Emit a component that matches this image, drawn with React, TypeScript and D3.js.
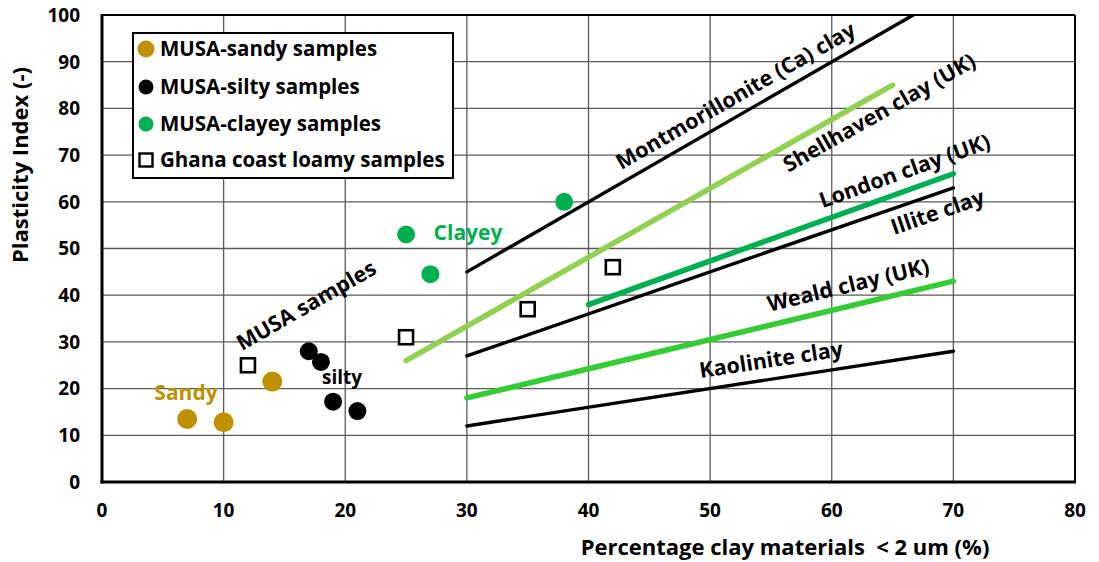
import React from "react";
import * as d3 from "d3";

const xTicks = [0, 10, 20, 30, 40, 50, 60, 70, 80];
const yTicks = [0, 10, 20, 30, 40, 50, 60, 70, 80, 90, 100];

const sandyX = [7, 10, 14];
const sandyY = [13.5, 12.8, 21.5];
const siltyX = [17, 18, 19, 21];
const siltyY = [28, 25.7, 17.2, 15.2];
const clayeyX = [25, 27, 38];
const clayeyY = [53, 44.5, 60];
const ghanaX = [12, 25, 35, 42];
const ghanaY = [25, 31, 37, 46];

const lineNames = ["Montmorillonite (Ca) clay", "Shellhaven clay (UK)", "London clay (UK)", "Illite clay", "Weald clay (UK)", "Kaolinite clay"];
const lineX1 = [30, 25, 40, 30, 30, 30];
const lineY1 = [45, 26, 38, 27, 18, 12];
const lineX2 = [66.7, 65, 70, 70, 70, 70];
const lineY2 = [100, 85, 66, 63, 43, 28];
const lineColors = ["#000000", "#92D050", "#00B050", "#000000", "#33CC33", "#000000"];
const lineWidths = [3.4, 5.5, 5.5, 3.4, 5.5, 3.4];
// label baseline-centre positions in data units
const labelX = [52.4, 64.2, 66.2, 68.9, 61.5, 55.1];
const labelY = [81.3, 77.7, 65.1, 56.3, 40.6, 24.6];

const legendLabels = ["MUSA-sandy samples", "MUSA-silty samples", "MUSA-clayey samples", "Ghana coast loamy samples"];

const FONT = "'Open Sans', Lato, sans-serif";

export default function App() {
  const W = 1099, H = 562;
  const left = 102, right = 1075, top = 15, bottom = 482;
  const x = d3.scaleLinear().domain([0, 80]).range([left, right]);
  const y = d3.scaleLinear().domain([0, 100]).range([bottom, top]);
  const pxSlope = (i: number) => {
    const dx = x(lineX2[i]) - x(lineX1[i]);
    const dy = y(lineY2[i]) - y(lineY1[i]);
    return (Math.atan2(dy, dx) * 180) / Math.PI;
  };
  const gridColor = "#5a5a5a";
  return (
    <svg width={W} height={H} style={{ position: "absolute", left: 0, top: 0, background: "#fff" }} fontFamily={FONT}>
      {/* grid */}
      {xTicks.map((t) => (
        <line key={"gx" + t} x1={x(t)} x2={x(t)} y1={top} y2={bottom} stroke={gridColor} strokeWidth={1.3} />
      ))}
      {yTicks.map((t) => (
        <line key={"gy" + t} x1={left} x2={right} y1={y(t)} y2={y(t)} stroke={gridColor} strokeWidth={1.3} />
      ))}
      {/* frame */}
      <line x1={left} x2={right} y1={top} y2={top} stroke="#000" strokeWidth={2.2} />
      <line x1={right} x2={right} y1={top} y2={bottom} stroke="#000" strokeWidth={2} />
      <line x1={left} x2={left} y1={top - 1} y2={bottom + 1.5} stroke="#000" strokeWidth={3} />
      <line x1={left - 1.5} x2={right + 1} y1={bottom} y2={bottom} stroke="#000" strokeWidth={3} />

      {/* tick labels */}
      {yTicks.map((t) => (
        <text key={"yt" + t} x={80} y={y(t)} dy="0.36em" textAnchor="end" fontSize={19} fontWeight="bold" fill="#000">{t}</text>
      ))}
      {xTicks.map((t) => (
        <text key={"xt" + t} x={x(t)} y={517} textAnchor="middle" fontSize={19} fontWeight="bold" fill="#000">{t}</text>
      ))}
      <text x={785} y={555} textAnchor="middle" fontSize={22} fontWeight="bold" fill="#000" style={{ whiteSpace: "pre" }}>{"Percentage clay materials  < 2 um (%)"}</text>
      <text transform={`translate(28,165) rotate(-90)`} textAnchor="middle" fontSize={22} fontWeight="bold" fill="#000">Plasticity Index (-)</text>

      {/* clay lines */}
      <defs>
        <clipPath id="plotclip">
          <rect x={left} y={top} width={right - left} height={bottom - top} />
        </clipPath>
      </defs>
      <g clipPath="url(#plotclip)">
        {lineNames.map((n, i) => (
          <line key={n} x1={x(lineX1[i])} y1={y(lineY1[i])} x2={x(lineX2[i])} y2={y(lineY2[i])}
            stroke={lineColors[i]} strokeWidth={lineWidths[i]} strokeLinecap="round" />
        ))}
      </g>
      {lineNames.map((n, i) => (
        <text key={"l" + n} transform={`translate(${x(labelX[i])},${y(labelY[i])}) rotate(${pxSlope(i)})`}
          textAnchor="middle" fontSize={21.5} fontWeight="bold" fill="#000">{n}</text>
      ))}

      {/* points */}
      {ghanaX.map((v, i) => (
        <rect key={"g" + i} x={x(v) - 7} y={y(ghanaY[i]) - 7} width={14} height={14} fill="#fff" stroke="#000" strokeWidth={2.6} />
      ))}
      {sandyX.map((v, i) => (
        <circle key={"s" + i} cx={x(v)} cy={y(sandyY[i])} r={10} fill="#BF9000" />
      ))}
      {siltyX.map((v, i) => (
        <circle key={"si" + i} cx={x(v)} cy={y(siltyY[i])} r={9} fill="#000" />
      ))}
      {clayeyX.map((v, i) => (
        <circle key={"c" + i} cx={x(v)} cy={y(clayeyY[i])} r={9} fill="#00B050" />
      ))}

      {/* annotations */}
      <text x={186} y={392} dy="0.36em" textAnchor="middle" fontSize={21} fontWeight="bold" fill="#BF9000">Sandy</text>
      <text x={342} y={377} dy="0.36em" textAnchor="middle" fontSize={19} fontWeight="bold" fill="#000">silty</text>
      <text x={468} y={232} dy="0.36em" textAnchor="middle" fontSize={21} fontWeight="bold" fill="#00B050">Clayey</text>
      <text transform={`translate(310,312) rotate(-30)`} textAnchor="middle" fontSize={21.5} fontWeight="bold" fill="#000">MUSA samples</text>

      {/* legend */}
      <rect x={133} y={33} width={320} height={145} fill="#fff" stroke="#000" strokeWidth={2} />
      <circle cx={146} cy={49} r={8.5} fill="#BF9000" />
      <circle cx={146} cy={87} r={7.5} fill="#000" />
      <circle cx={146} cy={124} r={7.5} fill="#00B050" />
      <rect x={139.5} y={153.5} width={13} height={13} fill="#fff" stroke="#000" strokeWidth={2.4} />
      {legendLabels.map((l, i) => (
        <text key={l} x={160} y={[49, 87, 124, 160][i]} dy="0.36em" fontSize={20.5} fontWeight="bold" fill="#000">{l}</text>
      ))}
    </svg>
  );
}
